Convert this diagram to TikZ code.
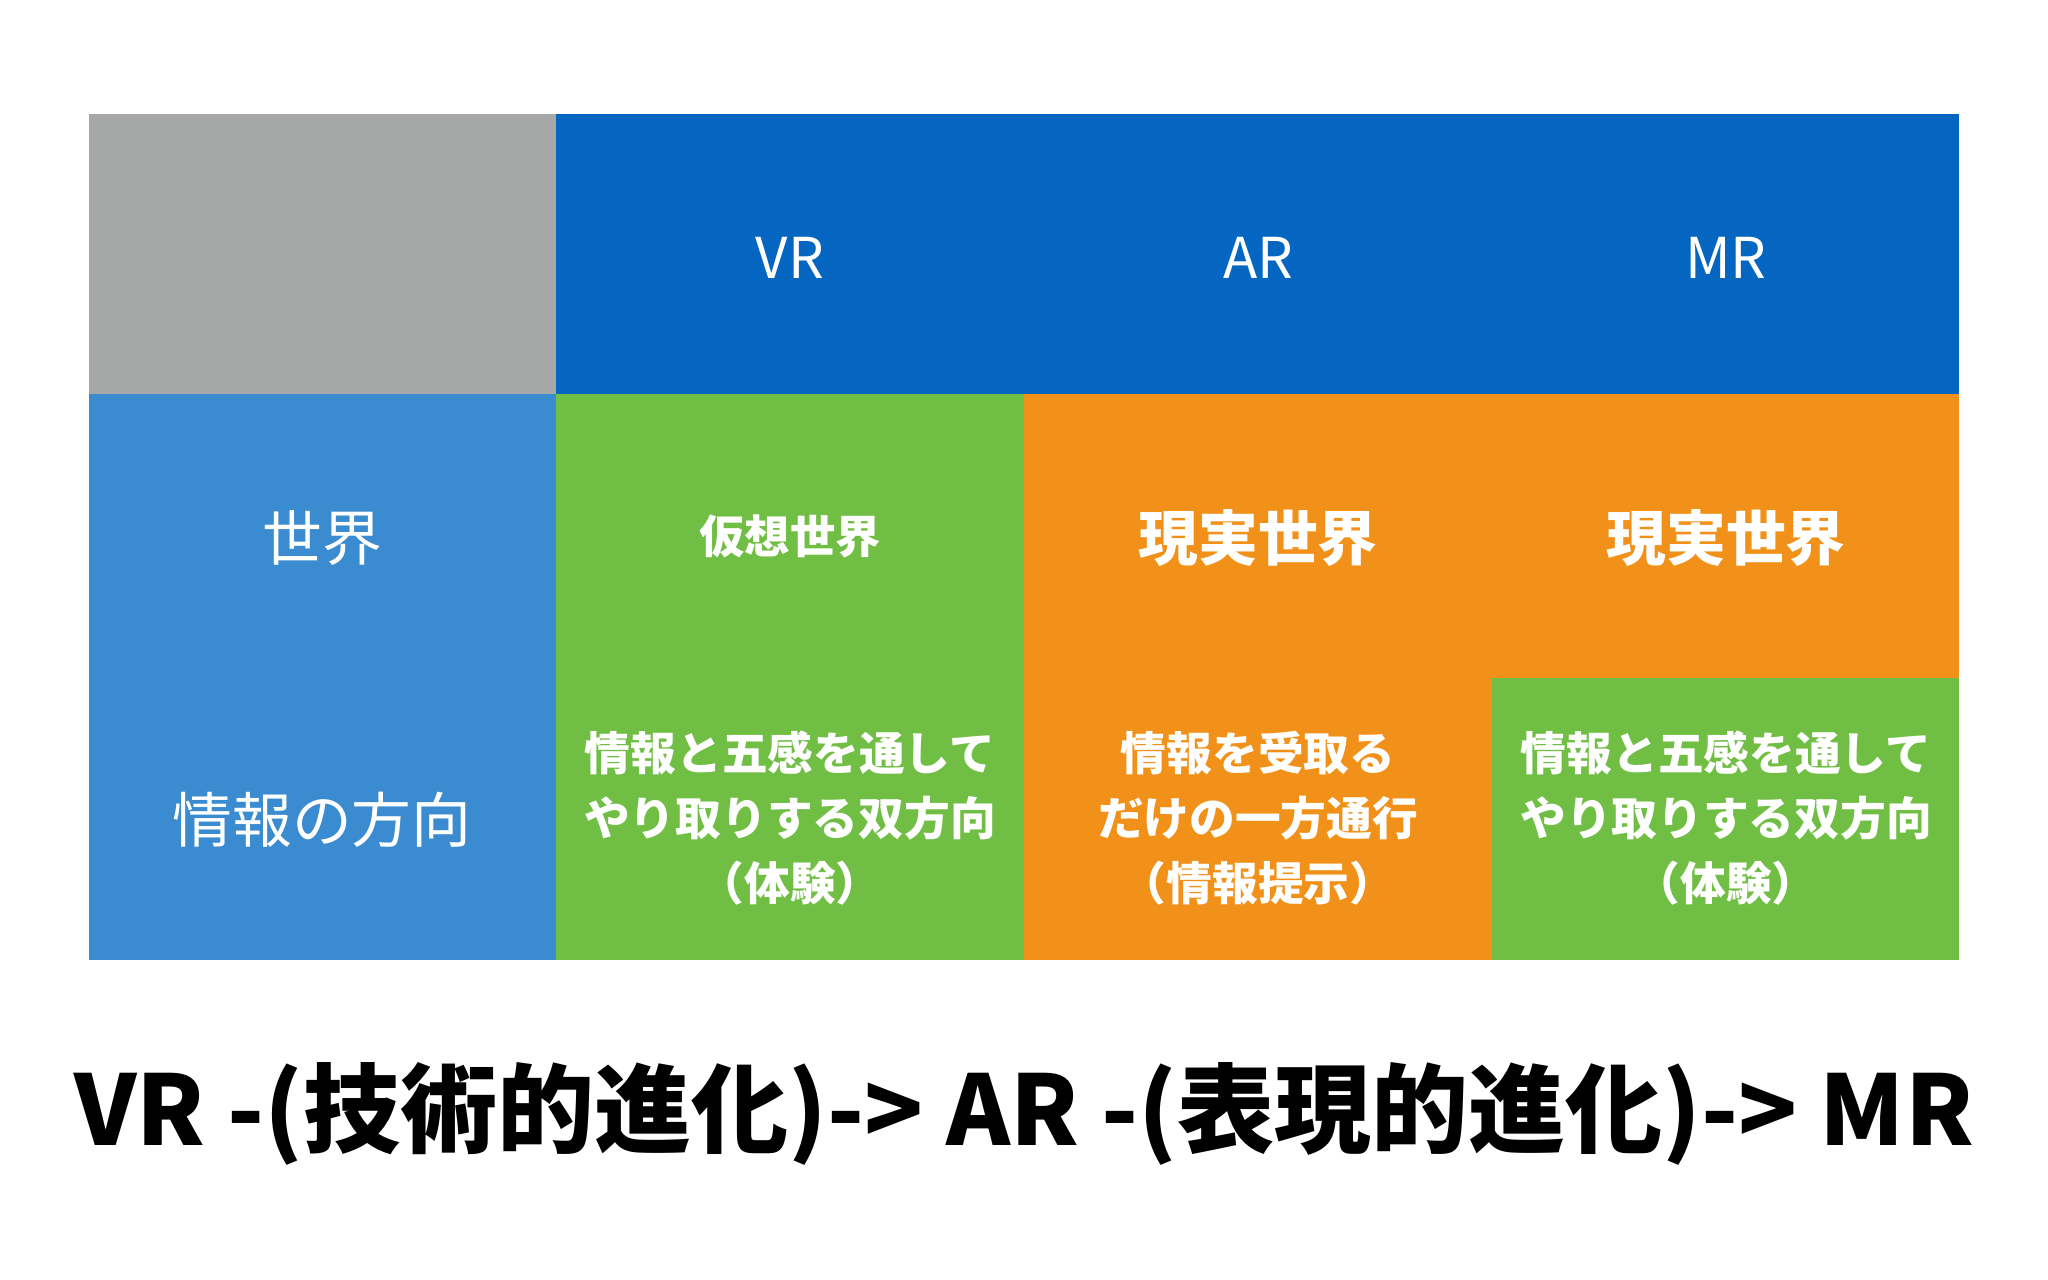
\documentclass[tikz,border=0pt]{standalone}
\usepackage{fontspec}
\setmainfont{Noto Sans CJK JP}
\definecolor{cgray}{HTML}{A6A8A7}
\definecolor{cblue}{HTML}{0566C1}
\definecolor{clblue}{HTML}{3A8BCF}
\definecolor{cgreen}{HTML}{70BF44}
\definecolor{corange}{HTML}{F29119}
\begin{document}
\begin{tikzpicture}[x=0.01cm,y=-0.01cm,
  hdr/.style={text=white,font=\fontsize{16}{19}\selectfont},
  lbl/.style={text=white,font=\fontsize{17}{20}\selectfont},
  big/.style={text=white,font=\bfseries\fontsize{17}{20}\selectfont},
  body/.style={text=white,align=center,font=\bfseries\fontsize{13}{18.5}\selectfont}]
\useasboundingbox (0,0) rectangle (2048,1280);
\fill[white] (0,0) rectangle (2048,1280);
\fill[cgray] (88.8,113.6) rectangle (556.4,394.4);
\fill[cblue] (556.4,113.6) rectangle (1959,394.4);
\fill[clblue] (88.8,394.4) rectangle (556.4,960);
\fill[cgreen] (556.4,394.4) rectangle (1024,960);
\fill[corange] (1024,394.4) rectangle (1959,960);
\fill[cgreen] (1491.5,677.8) rectangle (1959,960);
\node[hdr] (vr) at (790,258) {VR};
\node[hdr] (ar) at (1258,258) {AR};
\node[hdr] (mr) at (1726,258) {MR};
\node[lbl] (w) at (322,538) {世界};
\node[lbl] (d) at (322,820) {情報の方向};
\node[big,font=\bfseries\fontsize{12.9}{16}\selectfont] (w1) at (790,536) {仮想世界};
\node[big] (w2) at (1258,538) {現実世界};
\node[big] (w3) at (1726,538) {現実世界};
\node[body] (b1) at (790,818) {情報と五感を通して\\やり取りする双方向\\（体験）};
\node[body] (b2) at (1258,818) {情報を受取る\\だけの一方通行\\（情報提示）};
\node[body] (b3) at (1726,818) {情報と五感を通して\\やり取りする双方向\\（体験）};
\node[font=\bfseries\fontsize{27.6}{33}\selectfont] (bt) at (1024,1114) {VR -(技術的進化)-> AR -(表現的進化)-> MR};
\end{tikzpicture}
\end{document}
